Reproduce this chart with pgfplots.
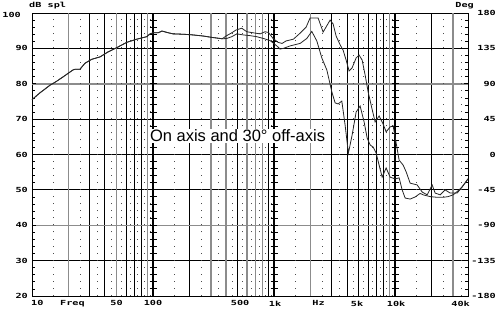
\documentclass[border=0pt]{standalone}
\usepackage{pgfplots}
\pgfplotsset{compat=1.18}
\usepackage{graphicx}
\usepackage{fontspec}
\newfontfamily\pix{DejaVu Sans Mono}
\newfontfamily\arialf{Liberation Sans}
\newcommand\sq[1]{\scalebox{1.02}[0.7]{#1}}
\pgfplotstableread{
f db
10 75.5
11.6 77.4
14.1 79.6
15.8 80.6
18.0 81.9
19.8 82.9
21.8 83.9
22.7 84.1
24.9 84.1
27.4 85.8
31.1 86.9
36.5 87.6
42.5 89.0
50.1 90.2
60.6 91.7
73.3 92.6
88.7 93.3
94.4 94.1
100 94.4
110 94.4
118.7 94.9
130.5 94.5
146.3 94.1
177 94.0
214 93.8
259 93.5
307 93.1
358 92.8
372 92.7
401 93.5
447 94.4
485 95.2
541 95.7
595 94.7
674 94.4
766 94.1
842 94.7
897 94.5
981 92.8
1079 91.7
1164 91.4
1256 92.1
1444 92.6
1640 94.3
1839 96.0
1984 98.6
2310 98.6
2541 94.6
2903 98.0
3073 96.9
3254 93.5
3512 91.0
3717 89.5
3936 86.7
4167 83.6
4412 84.5
4761 87.3
5040 88.1
5337 86.7
5649 82.5
5982 77.7
6333 74.0
6834 69.2
7375 70.9
7958 68.6
8427 66.4
9092 67.8
9627 68.1
10192 63.3
10790 58.4
11645 57.0
12330 55.1
13305 51.9
15200 51.4
16720 49.4
18390 48.6
20220 51.4
21410 49.1
23550 48.6
25900 50.0
28480 49.1
32540 49.1
35790 50.8
40000 53.1
}\onaxis
\pgfplotstableread{
f db
10 75.5
11.6 77.4
14.1 79.6
15.8 80.6
18.0 81.9
19.8 82.9
21.8 83.9
22.7 84.1
24.9 84.1
27.4 85.8
31.1 86.9
36.5 87.6
42.5 89.0
50.1 90.2
60.6 91.7
73.3 92.6
88.7 93.3
94.4 94.1
100 94.4
110 94.4
118.7 94.9
130.5 94.5
146.3 94.1
177 94.0
214 93.8
259 93.5
307 93.1
358 92.8
372 92.7
406 92.8
447 93.3
492 94.1
558 93.8
633 93.6
720 93.3
816 92.8
927 92.2
1053 90.7
1121 89.8
1194 90.0
1356 90.7
1640 91.4
1863 92.8
2049 94.8
2254 92.1
2479 87.3
2727 83.9
2848 81.1
2999 77.7
3193 74.6
3380 74.3
3627 75.1
3862 68.3
4111 60.4
4412 65.5
4761 72.0
5136 73.7
5543 69.2
5869 64.7
6215 62.7
6580 62.1
6966 60.4
7375 57.0
7810 53.6
8427 56.2
9092 53.6
10000 53.1
10790 53.4
11430 50.0
12090 47.7
13305 47.4
14630 48.0
16090 49.0
17040 48.6
19470 48.1
22240 47.9
24930 47.9
27420 48.1
30150 48.6
32540 49.5
35790 50.9
40000 53.1
}\offaxis
\begin{document}
\begin{tikzpicture}[x=1bp,y=1bp]
\tikzset{lab/.style={font=\pix\bfseries\fontsize{10bp}{11bp}\selectfont, inner sep=0pt}}
\path[use as bounding box] (0,0) rectangle (500,321);
\begin{axis}[
  at={(32bp,25bp)}, anchor=south west,
  scale only axis, width=436bp, height=283bp,
  xmode=log, xmin=10, xmax=40000, ymin=20, ymax=100,
  clip=false,
  axis line style={line width=1bp},
  xtick={30,40,60,70,80,100,200,500,900,1000,3000,4000,5000,6000,7000,8000,10000,20000},
  xticklabels={}, xtick style={draw=none},
  extra x ticks={20,50,90,300,400,600,700,800,2000,9000,30000},
  extra x tick labels={},
  extra x tick style={grid=major, major grid style={black!45, line width=1.5bp}},
  ytick={20,30,50,60,70,90,100},
  minor ytick={22,24,...,98},
  yticklabels={},
  extra y ticks={40,80},
  extra y tick labels={},
  extra y tick style={grid=major, major grid style={black!45, line width=1.5bp}},
  tick align=inside,
  major tick length=4bp, minor tick length=3.5bp,
  ytick style={line width=0.8bp, black},
  xmajorgrids, ymajorgrids,
  major grid style={black, line width=0.8bp},
]
\pgfplotsinvokeforeach{15,25,35,45,55,65,75,85,95,150,250,350,450,550,650,750,850,950,1500,2500,3500,4500,5500,6500,7500,8500,9500,15000,25000,35000}{
  \draw[black!70, line width=0.9bp, dash pattern=on 0.9bp off 6.175bp] (axis cs:#1,20) -- (axis cs:#1,100);
}
\pgfplotsinvokeforeach{100,1000,10000}{
  \draw[line width=1.4bp] (axis cs:#1,20) -- (axis cs:#1,100);
}
\pgfplotsinvokeforeach{22,24,...,98}{
  \draw[line width=1bp]
     ([xshift=-3.5bp]axis cs:100,#1) -- ([xshift=3.5bp]axis cs:100,#1)
     ([xshift=-3.5bp]axis cs:1000,#1) -- ([xshift=3.5bp]axis cs:1000,#1)
     ([xshift=-3.5bp]axis cs:10000,#1) -- ([xshift=3.5bp]axis cs:10000,#1);
}
\addplot[black!85, line width=0.8bp] table[x=f,y=db] {\offaxis};
\addplot[black!85, line width=0.8bp] table[x=f,y=db] {\onaxis};
\node[fill=white, inner sep=1bp, anchor=base, font=\arialf\fontsize{16.5bp}{18bp}\selectfont] at (axis cs:499,63.6) {On axis and 30° off-axis};
% left labels
\node[lab, anchor=east, xshift=-11bp, yshift=-2.3bp] at (axis cs:10,100) {\sq{100}};
\node[lab, anchor=east, xshift=-4bp] at (axis cs:10,90) {\sq{90}};
\node[lab, anchor=east, xshift=-4bp] at (axis cs:10,80) {\sq{80}};
\node[lab, anchor=east, xshift=-4bp] at (axis cs:10,70) {\sq{70}};
\node[lab, anchor=east, xshift=-4bp] at (axis cs:10,60) {\sq{60}};
\node[lab, anchor=east, xshift=-4bp] at (axis cs:10,50) {\sq{50}};
\node[lab, anchor=east, xshift=-4bp] at (axis cs:10,40) {\sq{40}};
\node[lab, anchor=east, xshift=-4bp] at (axis cs:10,30) {\sq{30}};
\node[lab, anchor=east, xshift=-4bp] at (axis cs:10,20) {\sq{20}};
% right labels
\node[lab, anchor=east, xshift=28bp] at (axis cs:40000,100) {\sq{180}};
\node[lab, anchor=east, xshift=28bp] at (axis cs:40000,90) {\sq{135}};
\node[lab, anchor=east, xshift=28bp] at (axis cs:40000,80) {\sq{90}};
\node[lab, anchor=east, xshift=28bp] at (axis cs:40000,70) {\sq{45}};
\node[lab, anchor=east, xshift=28bp] at (axis cs:40000,60) {\sq{0}};
\node[lab, anchor=east, xshift=28bp] at (axis cs:40000,50) {\sq{-45}};
\node[lab, anchor=east, xshift=28bp] at (axis cs:40000,40) {\sq{-90}};
\node[lab, anchor=east, xshift=28bp] at (axis cs:40000,30) {\sq{-135}};
\node[lab, anchor=east, xshift=28bp] at (axis cs:40000,20) {\sq{-180}};
% top
\node[lab, anchor=base west, xshift=-3bp, yshift=5.5bp] at (axis cs:10,100) {\sq{dB spl}};
\node[lab, anchor=base east, xshift=6bp, yshift=5bp] at (axis cs:40000,100) {\sq{Deg}};
% bottom labels
\node[lab, anchor=north west, xshift=-1bp, yshift=-4.5bp] at (axis cs:10,20) {\sq{10}};
\node[lab, anchor=north, yshift=-4.5bp] at (axis cs:21.6,20) {\sq{Freq}};
\node[lab, anchor=north, yshift=-4.5bp] at (axis cs:50,20) {\sq{50}};
\node[lab, anchor=north, yshift=-4.5bp] at (axis cs:100,20) {\sq{100}};
\node[lab, anchor=north, yshift=-4.5bp] at (axis cs:524,20) {\sq{500}};
\node[lab, anchor=north, yshift=-4.5bp] at (axis cs:1019,20) {\sq{1k}};
\node[lab, anchor=north, yshift=-4.5bp] at (axis cs:2331,20) {\sq{Hz}};
\node[lab, anchor=north, yshift=-4.5bp] at (axis cs:4853,20) {\sq{5k}};
\node[lab, anchor=north, yshift=-4.5bp] at (axis cs:10200,20) {\sq{10k}};
\node[lab, anchor=north east, xshift=2bp, yshift=-4.5bp] at (axis cs:40000,20) {\sq{40k}};
\end{axis}
\end{tikzpicture}
\end{document}
